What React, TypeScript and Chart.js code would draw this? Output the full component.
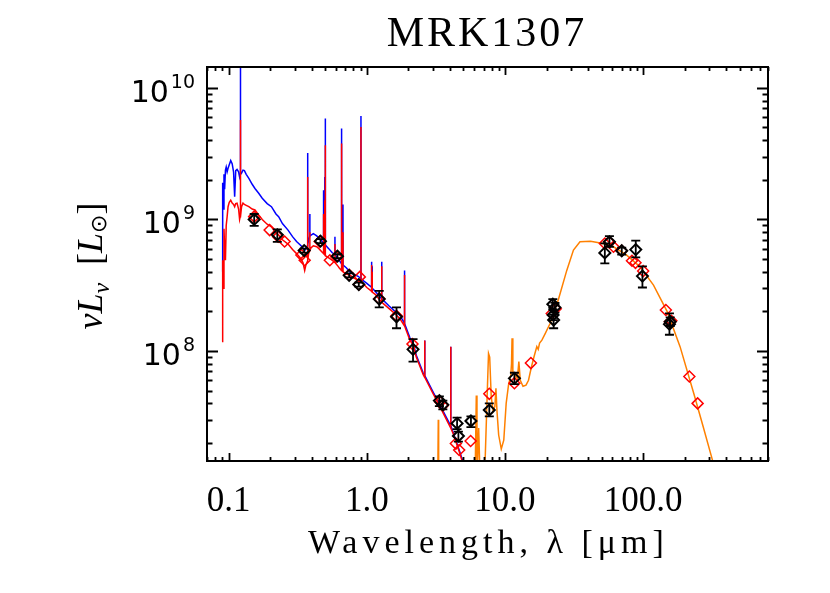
import React, { useEffect, useRef } from "react";
import { Chart, registerables } from "chart.js";

Chart.register(...registerables);

// ---------- text ----------
const TITLE = "MRK1307";
const X_TITLE = "Wavelength, λ [μm]";

// ---------- axis ranges / ticks ----------
const X_MIN = 0.0697;
const X_MAX = 801;
const Y_MIN = 1.46e7;
const Y_MAX = 1.44e10;
const X_TICK_VALUES = [0.1, 1, 10, 100];
const X_TICK_LABELS = ["0.1", "1.0", "10.0", "100.0"];
const Y_TICK_VALUES = [1e8, 1e9, 1e10];
const Y_TICK_EXPONENTS = ["8", "9", "10"];

// ---------- stellar spectra (unattenuated = blue, attenuated = red) ----------
const STAR_WL = [
  0.0895, 0.0905, 0.0915, 0.0925, 0.0935, 0.0948, 0.096, 0.0975, 0.099, 0.101,
  0.1035, 0.106, 0.1085, 0.1105, 0.1125, 0.115, 0.118, 0.12, 0.1212, 0.1216,
  0.122, 0.124, 0.127, 0.13, 0.134, 0.14, 0.148, 0.155, 0.165, 0.175,
  0.19, 0.204, 0.22, 0.23, 0.245, 0.269, 0.29, 0.31, 0.33, 0.345,
  0.355, 0.362, 0.3715, 0.3727, 0.374, 0.38, 0.3866, 0.3869, 0.3872, 0.395,
  0.41, 0.434, 0.45, 0.47, 0.4855, 0.4861, 0.4867, 0.495, 0.4959, 0.4968,
  0.5, 0.5007, 0.5014, 0.53, 0.56, 0.587, 0.5876, 0.5882, 0.62, 0.63,
  0.6555, 0.6563, 0.6571, 0.671, 0.672, 0.673, 0.71, 0.753, 0.8, 0.865,
  0.906, 0.9069, 0.9078, 0.953, 1.0, 1.082, 1.083, 1.084, 1.0935, 1.0941,
  1.0947, 1.15, 1.2, 1.281, 1.282, 1.283, 1.31, 1.45, 1.6, 1.73,
  1.874, 1.8751, 1.8762, 2.05, 2.17, 2.28, 2.56, 2.624, 2.626, 2.628,
  3.0, 3.38, 4.048, 4.051, 4.054, 4.22, 4.72, 5.0, 5.5,
];
const STAR_RED = [
  1.18e8, 4.9e8, 3.0e8, 8.5e8, 6.0e8, 4.9e8, 9.0e8, 1.05e9, 1.25e9, 1.35e9,
  1.4e9, 1.33e9, 1.3e9, 1.25e9, 1.32e9, 1.33e9, 1.2e9, 1.0e9, 1.05e9, 5.7e9,
  1.05e9, 1.25e9, 1.33e9, 1.3e9, 1.28e9, 1.25e9, 1.2e9, 1.18e9, 1.08e9, 1.0e9,
  9.2e8, 8.8e8, 7.9e8, 7.6e8, 7.0e8, 6.5e8, 5.9e8, 5.5e8, 5.1e8, 4.7e8,
  4.1e8, 4.5e8, 4.8e8, 2.1e9, 4.9e8, 5.6e8, 5.8e8, 8.0e8, 5.8e8, 6.1e8,
  6.3e8, 6.2e8, 6.0e8, 5.7e8, 5.5e8, 1.1e9, 5.5e8, 5.4e8, 1.4e9, 5.4e8,
  5.3e8, 3.66e9, 5.3e8, 5.1e8, 4.9e8, 4.7e8, 6.5e8, 4.7e8, 4.4e8, 4.3e8,
  4.1e8, 3.77e9, 4.1e8, 4.0e8, 8.0e8, 4.0e8, 3.85e8, 3.78e8, 3.6e8, 3.46e8,
  3.35e8, 5.05e9, 3.35e8, 3.2e8, 3.04e8, 2.85e8, 4.5e8, 2.85e8, 2.8e8, 4.0e8,
  2.8e8, 2.7e8, 2.55e8, 2.35e8, 4.4e8, 2.35e8, 2.3e8, 2.1e8, 1.92e8, 1.77e8,
  1.55e8, 3.78e8, 1.55e8, 1.21e8, 1.1e8, 9.0e7, 6.6e7, 6.3e7, 1.2e8, 6.3e7,
  4.8e7, 3.78e7, 2.6e7, 1.08e8, 2.6e7, 2.35e7, 1.66e7, 1.35e7, 1.0e7,
];
const STAR_BLUE = [
  4.0e8, 1.9e9, 1.2e9, 2.2e9, 1.7e9, 2.37e9, 2.5e9, 2.3e9, 2.45e9, 2.6e9,
  2.8e9, 2.65e9, 2.3e9, 1.49e9, 2.35e9, 2.4e9, 2.3e9, 2.1e9, 2.2e9, 3.0e10,
  2.2e9, 2.25e9, 2.37e9, 2.35e9, 2.2e9, 2.05e9, 1.85e9, 1.72e9, 1.58e9, 1.45e9,
  1.32e9, 1.25e9, 1.1e9, 1.05e9, 9.3e8, 8.3e8, 7.4e8, 6.8e8, 6.4e8, 6.1e8,
  5.8e8, 6.0e8, 6.3e8, 3.2e9, 6.5e8, 7.0e8, 7.5e8, 1.1e9, 7.5e8, 7.6e8,
  7.8e8, 7.5e8, 7.2e8, 6.9e8, 6.6e8, 1.67e9, 6.6e8, 6.5e8, 2.1e9, 6.5e8,
  6.4e8, 5.85e9, 6.4e8, 6.0e8, 5.6e8, 5.4e8, 7.4e8, 5.4e8, 5.0e8, 4.9e8,
  4.6e8, 4.9e9, 4.6e8, 4.5e8, 1.3e9, 4.5e8, 4.3e8, 4.0e8, 3.85e8, 3.7e8,
  3.55e8, 6.1e9, 3.55e8, 3.4e8, 3.27e8, 3.05e8, 4.76e8, 3.05e8, 3.0e8, 4.4e8,
  3.0e8, 2.85e8, 2.7e8, 2.5e8, 4.76e8, 2.5e8, 2.44e8, 2.2e8, 2.0e8, 1.88e8,
  1.62e8, 4.1e8, 1.62e8, 1.26e8, 1.14e8, 9.3e7, 6.8e7, 6.5e7, 1.2e8, 6.5e7,
  4.95e7, 3.9e7, 2.7e7, 1.08e8, 2.7e7, 2.4e7, 1.7e7, 1.4e7, 1.05e7,
];

// ---------- dust emission model (orange) ----------
const DUST_WL = [
  2.9, 3.2, 3.26, 3.29, 3.31, 3.4, 5.0, 5.9, 6.1, 6.2,
  6.27, 6.3, 6.45, 6.6, 6.9, 7.2, 7.45, 7.6, 7.75, 7.95,
  8.2, 8.45, 8.6, 8.75, 9.0, 9.4, 9.8, 10.2, 10.6, 11.0,
  11.15, 11.25, 11.4, 11.8, 12.3, 12.6, 12.9, 13.5, 14.2, 14.8,
  15.5, 16.2, 17.0, 17.4, 17.8, 18.5, 19.5, 21.2, 24.3, 28.0,
  31.3, 34.9, 41.6, 50.1, 61, 76, 95, 118.8, 149, 185,
  232, 272, 317, 350,
];
const DUST_L = [
  3e6, 5e6, 1.0e7, 3.0e7, 1.0e7, 5e6, 3e6, 8e6, 1.4e7, 4.6e7,
  1.5e7, 1.2e7, 2.6e7, 1.1e7, 9e6, 1.6e7, 5.0e7, 9.6e7, 9.0e7, 4.5e7,
  3.5e7, 3.8e7, 5.2e7, 3.5e7, 2.3e7, 1.8e7, 2.1e7, 4.0e7, 5.5e7, 6.5e7,
  8.0e7, 1.25e8, 7.0e7, 6.6e7, 6.2e7, 8.3e7, 6.0e7, 5.4e7, 5.5e7, 6.0e7,
  7.5e7, 9.0e7, 1.08e8, 1.03e8, 1.15e8, 1.21e8, 1.35e8, 1.62e8, 2.44e8, 4.1e8,
  5.85e8, 6.76e8, 6.84e8, 6.6e8, 6.2e8, 5.36e8, 4.36e8, 3.17e8, 2.0e8, 1.08e8,
  4.8e7, 2.66e7, 1.49e7, 9e6,
];

// ---------- model photometry (red diamonds) ----------
const MODEL_WL = [
  0.153, 0.198, 0.228, 0.254, 0.336, 0.355, 0.456, 0.54, 0.6, 0.745,
  0.875, 0.89, 1.23, 1.64, 2.14, 3.4, 3.55, 4.41, 4.66, 5.64,
  7.7, 11.7, 15.4, 21.8, 23.3, 52.8, 57, 61, 70, 83,
  88, 100, 146, 156, 160, 216, 248,
];
const MODEL_L = [
  1.05e9, 8.3e8, 7.4e8, 6.8e8, 5.36e8, 4.9e8, 6.8e8, 4.9e8, 5.2e8, 3.8e8,
  3.2e8, 3.66e8, 2.5e8, 1.85e8, 1.13e8, 4.1e7, 3.85e7, 1.98e7, 1.77e7, 2.07e7,
  4.73e7, 5.7e7, 8.1e7, 1.93e8, 2.1e8, 6.57e8, 6.7e8, 6.2e8, 5.78e8, 4.85e8,
  4.68e8, 4.05e8, 2.05e8, 1.67e8, 1.7e8, 6.4e7, 4.0e7,
];

// ---------- observed photometry (black diamonds with error bars) ----------
const OBS_WL = [
  0.153, 0.225, 0.352, 0.462, 0.613, 0.745, 0.875, 1.23, 1.64, 2.16,
  3.35, 3.55, 4.5, 4.6, 5.67, 7.7, 11.7, 22.2, 22.3, 22.5,
  23.0, 52.8, 57, 70, 88.4, 98.8, 155, 157,
];
const OBS_L = [
  1.0e9, 7.64e8, 5.8e8, 6.84e8, 5.26e8, 3.76e8, 3.2e8, 2.48e8, 1.82e8, 1.03e8,
  4.2e7, 3.9e7, 2.82e7, 2.26e7, 2.94e7, 3.56e7, 6.2e7, 2.27e8, 1.88e8, 1.72e8,
  2.14e8, 5.57e8, 6.76e8, 5.78e8, 5.9e8, 3.71e8, 1.6e8, 1.67e8,
];
const OBS_LO = [
  8.94e8, 6.76e8, 5.6e8, 6.6e8, 5.08e8, 3.63e8, 3.09e8, 2.15e8, 1.49e8, 8.3e7,
  3.82e7, 3.6e7, 2.55e7, 2.05e7, 2.64e7, 3.19e7, 5.6e7, 2.08e8, 1.72e8, 1.49e8,
  1.96e8, 4.63e8, 6.2e8, 5.4e8, 5.14e8, 3.04e8, 1.33e8, 1.55e8,
];
const OBS_HI = [
  1.1e9, 8.4e8, 6.0e8, 7.08e8, 5.44e8, 3.89e8, 3.31e8, 2.87e8, 2.15e8, 1.23e8,
  4.53e7, 4.2e7, 3.12e7, 2.44e7, 3.19e7, 4.0e7, 6.84e7, 2.48e8, 2.04e8, 1.88e8,
  2.32e8, 6.57e8, 7.46e8, 6.1e8, 6.9e8, 4.4e8, 1.93e8, 1.8e8,
];

const pts = (xs: number[], ys: number[]) => xs.map((x, i) => ({ x, y: ys[i] }));

const SERIF = "'Liberation Serif', 'DejaVu Serif', serif";

const framePlugin = {
  id: "idlFrame",
  afterDatasetsDraw(chart: any) {
    const { ctx, scales } = chart;
    const x = scales.x;
    const y = scales.y;
    ctx.save();
    ctx.strokeStyle = "#000";
    ctx.lineWidth = 1.8;
    OBS_WL.forEach((w, i) => {
      const px = x.getPixelForValue(w);
      const lo = y.getPixelForValue(OBS_LO[i]);
      const hi = y.getPixelForValue(OBS_HI[i]);
      ctx.beginPath();
      ctx.moveTo(px, lo);
      ctx.lineTo(px, hi);
      ctx.moveTo(px - 4.5, lo);
      ctx.lineTo(px + 4.5, lo);
      ctx.moveTo(px - 4.5, hi);
      ctx.lineTo(px + 4.5, hi);
      ctx.stroke();
    });
    ctx.restore();
  },
  afterDraw(chart: any) {
    const { ctx, chartArea: a, scales } = chart;
    const x = scales.x;
    const y = scales.y;
    ctx.save();
    ctx.strokeStyle = "#000";
    ctx.fillStyle = "#000";
    ctx.lineWidth = 2;
    ctx.strokeRect(a.left, a.top, a.right - a.left, a.bottom - a.top);

    // x ticks (inside, bottom & top)
    ctx.lineWidth = 1.8;
    for (let d = -2; d <= 3; d++) {
      for (let k = 1; k <= 9; k++) {
        const v = k * Math.pow(10, d);
        if (v < X_MIN || v > X_MAX) continue;
        const px = Math.round(x.getPixelForValue(v)) + 0.5;
        const len = k === 1 ? 8 : 4;
        ctx.beginPath();
        ctx.moveTo(px, a.bottom);
        ctx.lineTo(px, a.bottom - len);
        ctx.moveTo(px, a.top);
        ctx.lineTo(px, a.top + len);
        ctx.stroke();
      }
    }
    // y ticks (inside, left & right)
    for (let d = 7; d <= 10; d++) {
      for (let k = 1; k <= 9; k++) {
        const v = k * Math.pow(10, d);
        if (v < Y_MIN || v > Y_MAX) continue;
        const py = Math.round(y.getPixelForValue(v)) + 0.5;
        const len = k === 1 ? 11 : 5.5;
        ctx.beginPath();
        ctx.moveTo(a.left, py);
        ctx.lineTo(a.left + len, py);
        ctx.moveTo(a.right, py);
        ctx.lineTo(a.right - len, py);
        ctx.stroke();
      }
    }

    // x tick labels
    ctx.font = `35px ${SERIF}`;
    ctx.textAlign = "center";
    ctx.textBaseline = "alphabetic";
    X_TICK_VALUES.forEach((v, i) => {
      ctx.fillText(X_TICK_LABELS[i], x.getPixelForValue(v), 511);
    });

    // y tick labels 10^n
    Y_TICK_VALUES.forEach((v, i) => {
      const py = y.getPixelForValue(v);
      ctx.textAlign = "right";
      ctx.font = "19px 'DejaVu Sans'";
      const supW = ctx.measureText(Y_TICK_EXPONENTS[i]).width;
      ctx.fillText(Y_TICK_EXPONENTS[i], 195, py + 14 - 14);
      ctx.font = "30px 'DejaVu Sans'";
      ctx.fillText("10", 195 - supW - 2, py + 14);
    });

    // title
    ctx.textAlign = "center";
    ctx.font = `42px ${SERIF}`;
    (ctx as any).letterSpacing = "3px";
    ctx.fillText(TITLE, 487, 46);

    // x title
    ctx.textAlign = "left";
    ctx.font = `34px ${SERIF}`;
    (ctx as any).letterSpacing = "5px";
    ctx.fillText(X_TITLE, 308, 553);
    (ctx as any).letterSpacing = "0px";

    // y title (rotated)
    const parts = [
      { t: "ν", f: `italic 36px ${SERIF}`, dy: 0 },
      { t: "L", f: `italic 36px ${SERIF}`, dy: 0 },
      { t: "ν", f: `italic 24px ${SERIF}`, dy: 7 },
      { t: "  [", f: `36px ${SERIF}`, dy: 0 },
      { t: "L", f: `italic 36px ${SERIF}`, dy: 0 },
      { t: "⊙", f: "22px 'DejaVu Sans'", dy: 4 },
      { t: "]", f: `36px ${SERIF}`, dy: 0 },
    ];
    let total = 0;
    const widths = parts.map((p) => {
      ctx.font = p.f;
      const w = ctx.measureText(p.t).width;
      total += w;
      return w;
    });
    ctx.translate(102, 266);
    ctx.rotate(-Math.PI / 2);
    let cx = -total / 2;
    parts.forEach((p, i) => {
      ctx.font = p.f;
      ctx.textAlign = "left";
      ctx.fillText(p.t, cx, p.dy);
      cx += widths[i];
    });
    ctx.restore();
  },
};

export default function App() {
  const ref = useRef<HTMLCanvasElement | null>(null);
  useEffect(() => {
    if (!ref.current) return;
    const chart = new Chart(ref.current, {
      type: "scatter",
      data: {
        datasets: [
          {
            label: "observed",
            data: pts(OBS_WL, OBS_L),
            pointStyle: "rectRot",
            pointRadius: 5.5,
            pointBorderWidth: 2,
            borderColor: "#000",
            backgroundColor: "rgba(0,0,0,0)",
            pointBackgroundColor: "rgba(0,0,0,0)",
            order: 0,
            clip: 0,
          } as any,
          {
            label: "model photometry",
            data: pts(MODEL_WL, MODEL_L),
            pointStyle: "rectRot",
            pointRadius: 5.5,
            pointBorderWidth: 1.5,
            borderColor: "#ff0000",
            backgroundColor: "rgba(0,0,0,0)",
            pointBackgroundColor: "rgba(0,0,0,0)",
            order: 1,
            clip: 0,
          } as any,
          {
            label: "attenuated stars",
            data: pts(STAR_WL, STAR_RED),
            showLine: true,
            borderColor: "#ff0000",
            borderWidth: 1.5,
            pointRadius: 0,
            tension: 0,
            order: 2,
            clip: 0,
          } as any,
          {
            label: "unattenuated stars",
            data: pts(STAR_WL, STAR_BLUE),
            showLine: true,
            borderColor: "#0000ff",
            borderWidth: 1.5,
            pointRadius: 0,
            tension: 0,
            order: 3,
            clip: 0,
          } as any,
          {
            label: "dust",
            data: pts(DUST_WL, DUST_L),
            showLine: true,
            borderColor: "#ff8000",
            borderWidth: 1.5,
            pointRadius: 0,
            tension: 0,
            order: 4,
            clip: 0,
          } as any,
        ],
      },
      options: {
        responsive: false,
        maintainAspectRatio: false,
        animation: false,
        devicePixelRatio: 1,
        events: [],
        layout: { padding: { left: 207, right: 62, top: 67, bottom: 132 } },
        plugins: {
          legend: { display: false },
          tooltip: { enabled: false },
          title: { display: false },
        },
        scales: {
          x: { type: "logarithmic", min: X_MIN, max: X_MAX, display: false },
          y: { type: "logarithmic", min: Y_MIN, max: Y_MAX, display: false },
        },
      } as any,
      plugins: [framePlugin],
    });
    return () => chart.destroy();
  }, []);
  return (
    <div style={{ position: "absolute", left: 0, top: 0, width: 830, height: 593, background: "#fff" }}>
      <canvas ref={ref} width={830} height={593} style={{ display: "block" }} />
    </div>
  );
}
